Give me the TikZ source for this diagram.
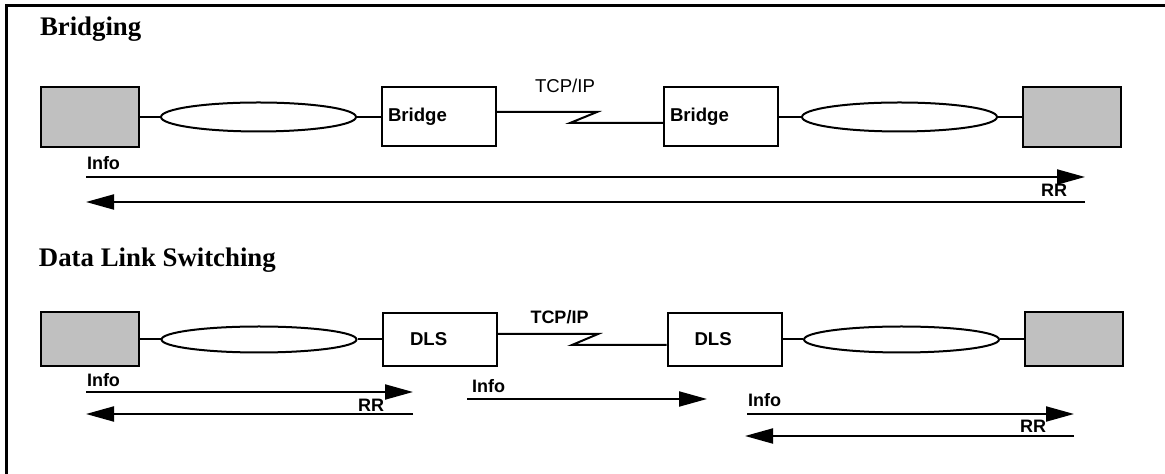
\documentclass[tikz,border=0pt]{standalone}
\usepackage{fontspec}
\setmainfont{Liberation Serif}
\setsansfont{Liberation Sans}
\usetikzlibrary{shapes.geometric,arrows.meta}
\definecolor{hostgray}{RGB}{192,192,192}

\begin{document}
\begin{tikzpicture}[x=0.5pt,y=-0.5pt,line width=1pt,
    host/.style={draw,fill=hostgray,minimum width=49pt,inner sep=0pt},
    lan/.style={draw,ellipse,minimum width=97.5pt,inner sep=0pt},
    relay/.style={draw,minimum width=57pt,align=left,inner ysep=0pt,
        font=\sffamily\bfseries\fontsize{9.3}{11}\selectfont},
    bridgebox/.style={relay,minimum height=29.5pt,inner xsep=3pt,text width=51pt},
    dlsbox/.style={relay,minimum height=26.5pt,inner xsep=13.5pt,text width=30pt},
    msg/.style={-{Triangle[length=14pt,width=7.5pt]}},
    lbl/.style={font=\sffamily\bfseries\fontsize{9}{11}\selectfont,inner sep=0pt},
    title/.style={font=\bfseries\fontsize{13.4}{16}\selectfont,inner sep=0pt,anchor=base west}]

    \useasboundingbox (0,0) rectangle (1165,474);
    \draw[line width=1.3pt] (6.5,474) -- (6.5,5.5) -- (1165,5.5);

    % Bridging
    \node[title] (titleBr) at (39,36) {Bridging};

    \node[host,minimum height=30pt] (hostA) at (90,117) {};
    \node[lan,minimum height=14.5pt] (lanA) at (258.5,117) {};
    \node[bridgebox] (bridgeA) at (439,117) {Bridge};
    \node[bridgebox] (bridgeB) at (721,117) {Bridge};
    \node[lan,minimum height=14.5pt] (lanB) at (899.5,117) {};
    \node[host,minimum height=30pt] (hostB) at (1072,117) {};

    \draw (hostA.east) -- (lanA.west) (lanA.east) -- (bridgeA.west);
    \draw (bridgeB.east) -- (lanB.west) (lanB.east) -- (hostB.west);

    \coordinate (zigA1) at (597,112);
    \coordinate (zigA2) at (570,123);
    \draw (bridgeA.east |- zigA1) -- (zigA1) -- (zigA2) -- (bridgeB.west |- zigA2);
    \node[inner sep=0pt,anchor=base,font=\sffamily\fontsize{9.3}{11}\selectfont] (tcpA) at (565,93) {TCP/IP};

    \coordinate (infoA) at (86,177);
    \coordinate (rrA) at (1085,202);
    \draw[msg] (infoA) -- (infoA -| rrA);
    \draw[msg] (rrA) -- (rrA -| infoA);
    \node[lbl,anchor=base west] (infoLblA) at (86,170) {Info};
    \node[lbl,anchor=base east] (rrLblA) at (1068,197) {RR};

    % Data Link Switching
    \node[title] (titleDls) at (38,267) {Data Link Switching};

    \node[host,minimum height=27pt] (hostC) at (90,339.5) {};
    \node[lan,minimum height=13pt] (lanC) at (259,339.5) {};
    \node[dlsbox] (dlsA) at (440,339.5) {DLS};
    \node[dlsbox] (dlsB) at (724.5,339.5) {DLS};
    \node[lan,minimum height=13pt] (lanD) at (901.5,339.5) {};
    \node[host,minimum height=27pt] (hostD) at (1074,339.5) {};

    \draw (hostC.east) -- (lanC.west) (lanC.east) -- (dlsA.west);
    \draw (dlsB.east) -- (lanD.west) (lanD.east) -- (hostD.west);

    \coordinate (zigB1) at (598,334);
    \coordinate (zigB2) at (572,345);
    \draw (dlsA.east |- zigB1) -- (zigB1) -- (zigB2) -- (dlsB.west |- zigB2);
    \node[lbl,anchor=base] (tcpB) at (559.5,324) {TCP/IP};

    \coordinate (infoB) at (86,392);
    \coordinate (rrB) at (413,414);
    \draw[msg] (infoB) -- (infoB -| rrB);
    \draw[msg] (rrB) -- (rrB -| infoB);
    \node[lbl,anchor=base west] (infoLblB) at (86,387) {Info};
    \node[lbl,anchor=base east] (rrLblB) at (385,412) {RR};

    \coordinate (infoC) at (467,399);
    \draw[msg] (infoC) -- (707,399);
    \node[lbl,anchor=base west] (infoLblC) at (471,393) {Info};

    \coordinate (infoD) at (747,414);
    \coordinate (rrD) at (1074,436);
    \draw[msg] (infoD) -- (infoD -| rrD);
    \draw[msg] (rrD) -- (745,436);
    \node[lbl,anchor=base west] (infoLblD) at (747,407) {Info};
    \node[lbl,anchor=base east] (rrLblD) at (1047,433) {RR};
\end{tikzpicture}
\end{document}
